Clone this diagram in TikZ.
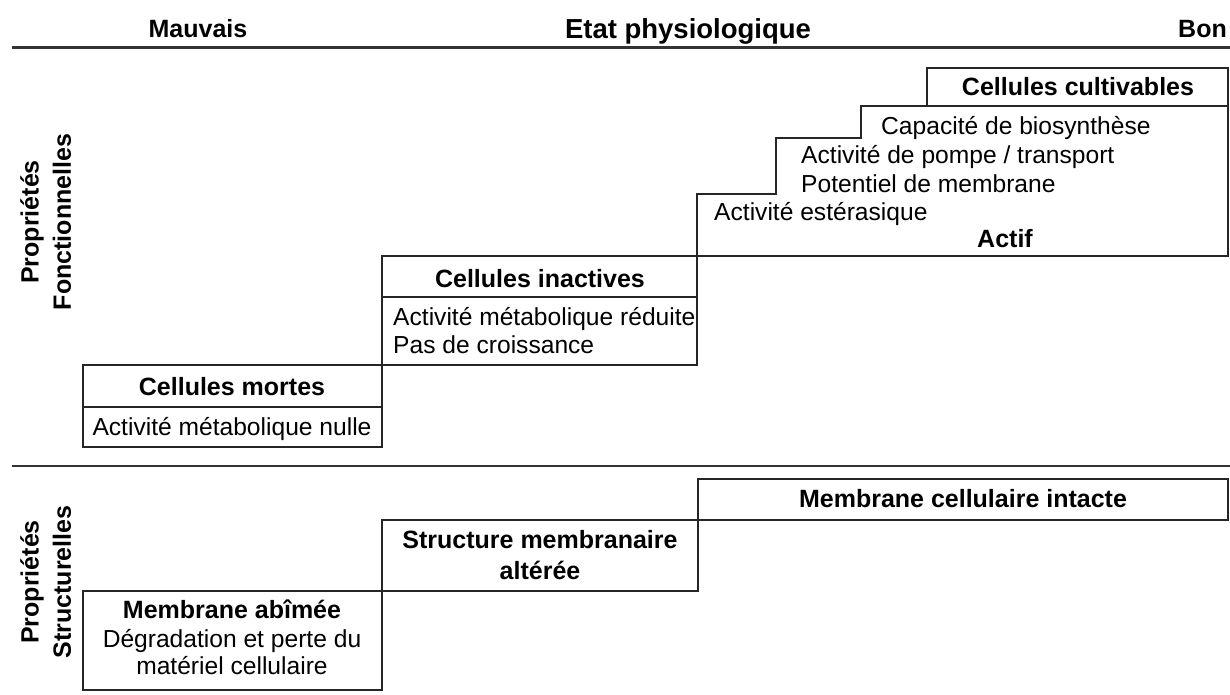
\documentclass[tikz,border=0pt]{standalone}
\usepackage{fontspec}
\setmainfont{Liberation Sans}
\begin{document}
\begin{tikzpicture}[x=1pt,y=-1pt,
  txt/.style={inner sep=0pt,font=\fontsize{24.6}{29}\selectfont},
  btxt/.style={inner sep=0pt,font=\fontsize{25}{29}\selectfont\bfseries},
  boxline/.style={draw=black!85,line width=1.6pt},
  rule/.style={draw=black!80,line width=3pt}]
\useasboundingbox (0,0) rectangle (1230,695);
% header
\node[btxt,anchor=base] (mauv) at (198,38) {Mauvais};
\node[inner sep=0pt,font=\fontsize{27.5}{32}\selectfont\bfseries,anchor=base] (etat) at (688,39) {Etat physiologique};
\node[btxt,anchor=base east] (bon) at (1227,38) {Bon};
\draw[rule] (12,48) -- (1230,48);
\draw[draw=black!80,line width=2.2pt] (12,466) -- (1230,466);
% side labels
\node[btxt,rotate=90] (pf1) at (32,222) {Propriétés};
\node[btxt,rotate=90] (pf2) at (62,222) {Fonctionnelles};
\node[btxt,rotate=90] (ps1) at (32,582) {Propriétés};
\node[btxt,rotate=90] (ps2) at (62,582) {Structurelles};
% functional boxes
\draw[boxline] (927,68) rectangle (1228,106);
\node[btxt,anchor=base] (cult) at (1078,96) {Cellules cultivables};
\draw[boxline] (697,256) -- (697,194) -- (776,194) -- (776,138) -- (861,138) -- (861,106) -- (1228,106) -- (1228,256) -- cycle;
\node[txt,anchor=base west] (bio) at (881,135) {Capacité de biosynthèse};
\node[txt,anchor=base west] (pomp) at (801,164) {Activité de pompe / transport};
\node[txt,anchor=base west] (pot) at (801,192) {Potentiel de membrane};
\node[txt,anchor=base west] (est) at (714,220) {Activité estérasique};
\node[btxt,anchor=base] (actif) at (1005,247) {Actif};
\draw[boxline] (382,256) rectangle (697,365);
\draw[boxline] (382,297) -- (697,297);
\node[btxt,anchor=base] (inact) at (540,287) {Cellules inactives};
\node[txt,anchor=base west] (red) at (393,325) {Activité métabolique réduite};
\node[txt,anchor=base west] (pas) at (393,353) {Pas de croissance};
\draw[boxline] (83,365) rectangle (382,447);
\draw[boxline] (83,407) -- (382,407);
\node[btxt,anchor=base] (mort) at (232,395) {Cellules mortes};
\node[txt,anchor=base] (nul) at (232,435) {Activité métabolique nulle};
% structural boxes
\draw[boxline] (698,479) rectangle (1228,520);
\node[btxt,anchor=base] (intact) at (963,507) {Membrane cellulaire intacte};
\draw[boxline] (382,520) rectangle (698,591);
\node[btxt,anchor=base] (str1) at (540,548) {Structure membranaire};
\node[btxt,anchor=base] (str2) at (540,579) {altérée};
\draw[boxline] (83,591) rectangle (382,690);
\node[btxt,anchor=base] (ab1) at (232,618) {Membrane abîmée};
\node[txt,anchor=base] (ab2) at (232,647) {Dégradation et perte du};
\node[txt,anchor=base] (ab3) at (232,674) {matériel cellulaire};
\end{tikzpicture}
\end{document}
